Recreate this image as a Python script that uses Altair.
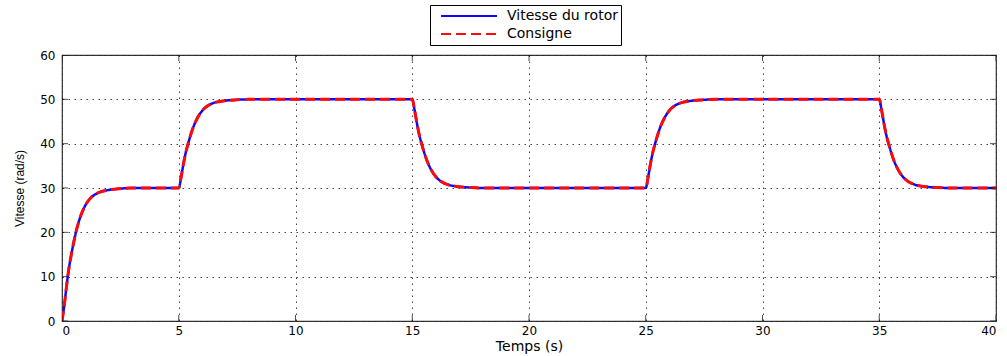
import altair as alt
import pandas as pd

# Time samples (s) around each set-point change
temps = [
    0.0, 0.1, 0.2, 0.3, 0.4, 0.5, 0.6, 0.8, 1.0, 1.2, 1.5, 2.0, 2.5, 3.0,
    5.0, 5.1, 5.2, 5.3, 5.4, 5.5, 5.6, 5.8, 6.0, 6.2, 6.5, 7.0, 7.5, 8.0,
    15.0, 15.1, 15.2, 15.3, 15.4, 15.5, 15.6, 15.8, 16.0, 16.2, 16.5, 17.0, 17.5, 18.0,
    25.0, 25.1, 25.2, 25.3, 25.4, 25.5, 25.6, 25.8, 26.0, 26.2, 26.5, 27.0, 27.5, 28.0,
    35.0, 35.1, 35.2, 35.3, 35.4, 35.5, 35.6, 35.8, 36.0, 36.2, 36.5, 37.0, 37.5, 38.0,
    40.0,
]

# Filtered speed reference (rad/s)
consigne = [
    0.0, 3.6, 8.1, 12.0, 15.0, 17.7, 20.1, 23.7, 26.1, 27.6, 28.8, 29.55, 29.85, 30.0,
    30.0, 32.4, 35.4, 38.0, 40.0, 41.8, 43.4, 45.8, 47.4, 48.4, 49.2, 49.7, 49.9, 50.0,
    50.0, 47.6, 44.6, 42.0, 40.0, 38.2, 36.6, 34.2, 32.6, 31.6, 30.8, 30.3, 30.1, 30.0,
    30.0, 32.4, 35.4, 38.0, 40.0, 41.8, 43.4, 45.8, 47.4, 48.4, 49.2, 49.7, 49.9, 50.0,
    50.0, 47.6, 44.6, 42.0, 40.0, 38.2, 36.6, 34.2, 32.6, 31.6, 30.8, 30.3, 30.1, 30.0,
    30.0,
]

# Measured rotor speed (rad/s), tracking the reference
vitesse_rotor = [
    0.0, 3.6, 8.1, 12.0, 15.0, 17.7, 20.1, 23.7, 26.1, 27.6, 28.8, 29.55, 29.85, 30.0,
    30.0, 32.4, 35.4, 38.0, 40.0, 41.8, 43.4, 45.8, 47.4, 48.4, 49.2, 49.7, 49.9, 50.0,
    50.0, 47.6, 44.6, 42.0, 40.0, 38.2, 36.6, 34.2, 32.6, 31.6, 30.8, 30.3, 30.1, 30.0,
    30.0, 32.4, 35.4, 38.0, 40.0, 41.8, 43.4, 45.8, 47.4, 48.4, 49.2, 49.7, 49.9, 50.0,
    50.0, 47.6, 44.6, 42.0, 40.0, 38.2, 36.6, 34.2, 32.6, 31.6, 30.8, 30.3, 30.1, 30.0,
    30.0,
]

series = ["Vitesse du rotor", "Consigne"]
x_ticks = [0, 5, 10, 15, 20, 25, 30, 35, 40]
y_ticks = [0, 10, 20, 30, 40, 50, 60]

df = pd.concat([
    pd.DataFrame({"t": temps, "v": vitesse_rotor, "serie": series[0]}),
    pd.DataFrame({"t": temps, "v": consigne, "serie": series[1]}),
])

x_enc = alt.X(
    "t:Q",
    scale=alt.Scale(domain=[0, 40], nice=False, zero=False),
    axis=alt.Axis(
        values=x_ticks, title="Temps (s)", format="d",
        labelFont="DejaVu Sans", labelFontSize=12, labelPadding=4,
        titleFont="DejaVu Sans", titleFontSize=14, titleFontWeight="normal",
        titlePadding=3,
    ),
)
y_enc = alt.Y(
    "v:Q",
    scale=alt.Scale(domain=[0, 60], nice=False),
    axis=alt.Axis(
        values=y_ticks, title="Vitesse (rad/s)", format="d",
        labelFont="DejaVu Sans", labelFontSize=12, labelPadding=7,
        titleFont="Liberation Sans", titleFontSize=12, titleFontWeight="normal",
        titlePadding=13,
    ),
)
color_enc = alt.Color(
    "serie:N",
    scale=alt.Scale(domain=series, range=["#0a0aff", "#ff0a0a"]),
    legend=alt.Legend(title=None),
)
dash_enc = alt.StrokeDash(
    "serie:N",
    scale=alt.Scale(domain=series, range=[[1, 0], [10, 5]]),
    legend=alt.Legend(title=None),
)

base = alt.Chart(df).encode(x=x_enc, y=y_enc, color=color_enc, strokeDash=dash_enc)

rotor_line = base.transform_filter(alt.datum.serie == series[0]).mark_line(
    strokeWidth=2.5, interpolate="monotone", clip=True
)
ref_line = base.transform_filter(alt.datum.serie == series[1]).mark_line(
    strokeWidth=3, interpolate="monotone", clip=True
)

# Inward ticks on all four sides of the frame
xt_df = pd.DataFrame({"t": x_ticks})
yt_df = pd.DataFrame({"v": y_ticks})
tick_style = dict(size=12, thickness=1, color="black", clip=True)
ticks_bottom = alt.Chart(xt_df).mark_tick(orient="vertical", **tick_style).encode(
    x="t:Q", y=alt.datum(0))
ticks_top = alt.Chart(xt_df).mark_tick(orient="vertical", **tick_style).encode(
    x="t:Q", y=alt.datum(60))
ticks_left = alt.Chart(yt_df).mark_tick(orient="horizontal", **tick_style).encode(
    y="v:Q", x=alt.datum(0))
ticks_right = alt.Chart(yt_df).mark_tick(orient="horizontal", **tick_style).encode(
    y="v:Q", x=alt.datum(40))

chart = (
    alt.layer(rotor_line, ref_line, ticks_bottom, ticks_top, ticks_left, ticks_right)
    .properties(
        width=934, height=266,
        padding={"left": 62, "top": 55, "right": 11, "bottom": 35},
        autosize=alt.AutoSizeParams(type="none"),
        background="white",
    )
    .configure_view(stroke="#333333", strokeWidth=1.2)
    .configure_axis(
        domain=False, ticks=False, grid=True,
        gridColor="#222222", gridDash=[1.5, 4.5], gridWidth=1, gridOpacity=0.85,
        labelColor="black", titleColor="black",
    )
    .configure_legend(
        orient="none", legendX=368, legendY=-50,
        strokeColor="black", fillColor="white", padding=3, cornerRadius=0,
        symbolType="stroke", symbolSize=3136, symbolStrokeWidth=2,
        symbolOffset=7, labelOffset=9, clipHeight=16, rowPadding=2,
        labelFont="DejaVu Sans", labelFontSize=14, labelColor="black",
    )
)

chart.save("out.html", embed_options={"renderer": "svg", "actions": False})
